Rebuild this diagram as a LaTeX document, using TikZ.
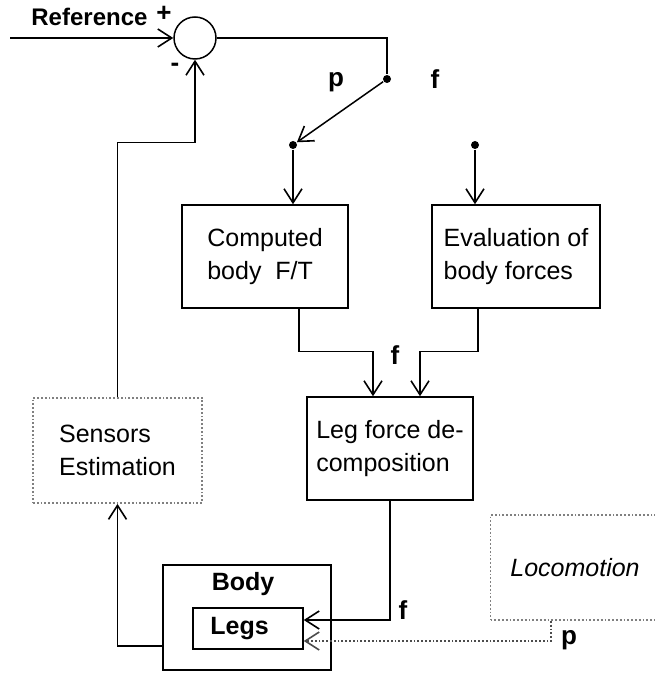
\documentclass[tikz,border=0pt]{standalone}
\usepackage{fontspec}
\setmainfont{Liberation Sans}
\usetikzlibrary{
  arrows.meta,
  calc
}

\begin{document}
\begin{tikzpicture}[x=0.5pt,y=-0.5pt,line width=0.75pt,
	font=\fontsize{12.5}{16.5}\selectfont,
	arr/.style={-{Straight Barb[length=7pt,width=9pt,line width=0.8pt]}},
	block/.style={draw,align=left,minimum width=83pt,minimum height=51.5pt},
	estim/.style={draw=gray,densely dotted,line width=0.9pt,align=left,minimum width=84.5pt,minimum height=52.5pt},
	lbl/.style={font=\fontsize{13}{15}\selectfont\bfseries},
	joint/.style={circle,fill,inner sep=0pt,minimum size=4pt},
]
	\useasboundingbox (0,0) rectangle (654,673);
	% summing junction and switch
	\node[draw,circle,minimum size=21pt,inner sep=0pt] (sum) at (195,38) {};
	\coordinate (in) at (10,38);
	\node[joint] (sw) at (387,79) {};
	\node[joint] (pdot) at (293,145) {};
	\node[joint] (fdot) at (475,145) {};
	\node[block] (comp) at (265,256.5) {Computed\\body~~F/T};
	\node[block,minimum width=84pt] (eval) at (516,256.5) {Evaluation of\\body forces};
	\node[block] (legf) at (390,448.5) {Leg force de-\\composition};
	\node[estim] (sens) at (117.5,450.5) {Sensors\\Estimation};
	\node[estim] (loco) at (575,567.5) {\itshape Locomotion};
	\node[draw,minimum width=84pt,minimum height=52.5pt] (body) at (247,617.5) {};
	\node (bodytxt) at (243,584) {\bfseries Body};
	\node[draw,minimum width=55pt,minimum height=20.5pt] (legs) at (248,628.5) {};
	\node[anchor=west] (legstxt) at (203,629) {\bfseries Legs};

	\draw[arr] (in) -- (sum.west);
	\draw (sum.east) -| (sw);
	\draw[arr] (sw) -- (pdot);
	\draw[arr] (pdot) -- (pdot |- comp.north);
	\draw[arr] (fdot) -- (fdot |- eval.north);
	\draw[arr] ($(comp.south)+(34,0)$) |- ($(legf.north)+(-17,-45)$) -- ($(legf.north)+(-17,0)$);
	\draw[arr] ($(eval.south)+(-38,0)$) |- ($(legf.north)+(30,-45)$) -- ($(legf.north)+(30,0)$);
	\draw[arr] (legf.south) |- ($(legs.east)+(0,-8.5)$);
	\draw[arr,densely dotted,gray!60!black,line width=0.9pt] ($(loco.south)+(-24,0)$) |- ($(legs.east)+(0,12.5)$);
	\draw[arr] ($(body.west)+(0,28.5)$) -| (sens.south);
	\draw[arr] (sens.north) |- ($(sum.south)+(0,83)$) -- (sum.south);

	\node[lbl,font=\fontsize{12}{14}\selectfont\bfseries,anchor=west] (reftxt) at (24,17) {Reference};
	\node[lbl] (plus) at (164,14) {+};
	\node[lbl] (minus) at (175,67) {-};
	\node[lbl] (pswitch) at (336,82) {p};
	\node[lbl] (fswitch) at (435,79) {f};
	\node[lbl] (fdecomp) at (395,355) {f};
	\node[lbl] (flegs) at (403,610) {f};
	\node[lbl] (ploco) at (569,640) {p};
\end{tikzpicture}
\end{document}
